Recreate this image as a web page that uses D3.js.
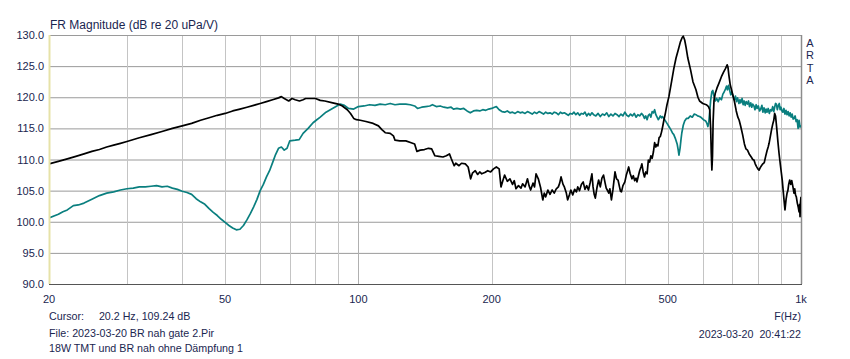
<!DOCTYPE html>
<html><head><meta charset="utf-8">
<script src="https://cdn.jsdelivr.net/npm/d3@7"></script>
<style>
html,body{margin:0;padding:0;background:#fff;}
svg{display:block;font-family:"Liberation Sans",Arial,sans-serif;}
</style></head>
<body>
<svg id="chart" width="850" height="359"></svg>
<script>
const title = "FR Magnitude (dB re 20 uPa/V)";
const yTicks = [90,95,100,105,110,115,120,125,130];
const xGrid = [30,40,50,60,70,80,90,100,200,300,400,500,600,700,800,900];
const xTickLabels = [[20,"20"],[50,"50"],[100,"100"],[200,"200"],[500,"500"],[1000,"1k"]];
const infoLeft = ["Cursor:\u00a0\u00a0\u00a0\u00a0 20.2 Hz, 109.24 dB","File: 2023-03-20 BR nah gate 2.Pir","18W TMT und BR nah ohne Dämpfung 1"];
const infoRight = ["F(Hz)","2023-03-20\u00a0\u00a020:41:22"];
const brand = ["A","R","T","A"];

const blackCurve = [[20,109.3],[21,109.7],[22,110.1],[23,110.5],[24,110.9],[25,111.3],[26,111.6],[27,112.0],[28,112.3],[29,112.6],[30,112.9],[32,113.5],[34,114.0],[36,114.5],[38,115.0],[40,115.4],[42,115.8],[44,116.3],[46,116.7],[48,117.1],[50,117.4],[52,117.8],[54,118.1],[56,118.4],[58,118.7],[60,119.0],[62,119.3],[64,119.6],[66,119.9],[67,120.1],[68,119.8],[69.6,119.4],[70.8,119.8],[72,119.6],[73.6,119.4],[75,119.6],[76,119.8],[78,119.8],[80,119.8],[82,119.5],[84,119.4],[87.5,119.1],[90,118.9],[92,118.6],[94.4,118.0],[96,117.4],[97.6,116.6],[99,116.4],[101,116.3],[104,116.1],[108,115.8],[111,115.4],[113,114.8],[115,114.3],[118,114.2],[120,113.8],[121,113.1],[124,113.0],[128,113.0],[131.6,112.7],[134,112.5],[135.6,111.3],[138,111.5],[141,111.6],[144,111.8],[146.4,111.7],[148.9,110.6],[152,110.5],[155.3,110.4],[158,110.6],[160.6,110.9],[162,110.2],[164.6,109.0],[166,109.4],[168.8,109.0],[171,109.4],[174.4,109.3],[177,108.8],[179.3,106.9],[181,107.8],[183.7,108.2],[186,107.6],[188,108.0],[190,107.7],[193,107.9],[196,108.2],[199,108.0],[202,108.5],[205,108.8],[208,108.5],[210,105.6],[212,106.6],[214,107.5],[217,106.5],[220,106.9],[223,106.0],[225,106.6],[227,105.3],[230,105.8],[233,105.4],[235,106.1],[238,105.6],[241,106.9],[243,105.8],[245,105.1],[248,106.2],[250,105.6],[252,107.7],[255,106.9],[258,105.5],[261,103.5],[263,104.6],[265,104.0],[268,105.1],[271,104.4],[274,105.1],[277,104.6],[280,105.3],[283,105.6],[285,106.2],[287,107.2],[290,106.0],[292,105.6],[295,104.6],[297,103.5],[300,104.4],[302,105.1],[305,104.3],[308,105.2],[311,104.8],[313,105.6],[316,105.0],[319,106.0],[322,106.4],[325,105.2],[328,105.8],[331,105.1],[334,106.3],[337,107.7],[339,105.6],[341,104.4],[343,103.8],[346,105.5],[349,106.7],[352,105.6],[355,107.0],[358,107.5],[361,106.2],[363,105.4],[365,105.1],[368,104.6],[370,105.3],[373,103.5],[376,105.2],[378,106.6],[380,108.0],[383,106.9],[386,106.7],[389,105.6],[391,104.9],[393,104.8],[396,105.8],[400,106.4],[403,107.5],[405,108.0],[408,108.8],[411,107.8],[415,106.9],[418,107.4],[421,106.6],[424,107.0],[426,106.4],[429,107.3],[432,108.2],[435,108.8],[437,109.3],[440,108.0],[443,107.2],[446,108.0],[449,107.7],[452,109.9],[455,109.6],[458,110.6],[461,110.2],[464,111.2],[467,112.7],[470,112.0],[472,112.4],[475,112.2],[478,113.5],[481,113.7],[484,114.4],[487,115.3],[490,116.3],[494,117.5],[498,118.8],[503,120.1],[510,122.5],[516,124.6],[522,126.3],[528,127.6],[534,128.9],[539,129.6],[542,129.8],[546,129.2],[550,128.0],[555,126.3],[563,124.4],[570,122.5],[579,121.2],[585,120.0],[590,119.4],[600,119.0],[611,118.8],[618,118.5],[622,118.0],[625,115.0],[627,111.0],[629,108.3],[631,110.5],[633,116.0],[636,119.5],[640,120.6],[646,121.5],[652,122.2],[661,123.3],[668,124.0],[675,124.6],[681,125.2],[684,124.8],[687,123.6],[692,122.0],[700,120.6],[707,119.4],[714,117.8],[720,116.8],[725,116.3],[731,115.3],[738,114.0],[745,112.5],[751,111.7],[757,111.5],[765,110.8],[772,110.4],[778,110.0],[783,109.9],[788,109.3],[793,108.9],[799,108.5],[804,108.3],[809,108.7],[814,109.0],[820,109.3],[826,109.5],[832,110.5],[838,111.4],[843,112.0],[847,112.6],[853,113.8],[858,114.8],[864,115.8],[868,116.3],[872,117.4],[876,117.0],[882,114.8],[887,112.8],[892,111.0],[898,109.2],[903,107.8],[907,106.7],[912,104.8],[916,103.3],[920,101.9],[925,103.5],[930,104.6],[934,105.0],[938,106.0],[943,106.7],[948,106.0],[953,106.6],[959,105.6],[964,104.6],[968,105.3],[972,104.3],[976,104.0],[981,103.0],[986,102.3],[990,101.6],[993,102.8],[995,100.8],[997,103.0],[1000,104.0]];

const tealCurve = [[20,100.6],[21,101.2],[21.5,101.6],[22,101.9],[22.7,102.6],[23.3,102.7],[24,103.0],[25,103.6],[26,104.2],[27,104.6],[28,104.8],[29,105.1],[30,105.3],[31,105.4],[32,105.6],[33,105.6],[34,105.7],[35,105.8],[36,105.6],[37,105.7],[38,105.4],[39,105.2],[40,104.9],[41,104.7],[42,104.4],[43,103.7],[44,103.2],[45,102.8],[46,102.1],[47,101.5],[48,101.0],[49,100.4],[50,99.9],[51,99.4],[52,99.0],[53,98.7],[54,98.8],[55,99.4],[56,100.3],[57,101.3],[58,102.4],[59,103.6],[60,105.0],[61,106.0],[62,107.2],[63,108.2],[64,109.5],[65,110.8],[66,111.8],[67,112.0],[68,111.5],[69,111.8],[70,113.0],[72,113.1],[73.5,113.2],[75,114.2],[77,115.0],[79,115.9],[80.3,116.3],[82,116.8],[84.5,117.6],[87,118.1],[89,118.5],[91,118.9],[93,118.7],[95,118.2],[97.6,118.1],[100,118.5],[103,118.6],[106,118.8],[109,118.7],[112,118.9],[115,118.8],[118,119.0],[121,118.8],[124,118.9],[128,118.9],[131,118.8],[134,118.6],[136,118.2],[139,118.4],[142,118.5],[145,118.6],[147,118.8],[150,118.5],[153,118.6],[156,118.4],[159,118.3],[162,118.4],[164,118.1],[167,118.2],[170,118.1],[173,118.2],[176,117.8],[179,117.5],[182,117.8],[185,117.9],[188,117.8],[191,118.0],[194,117.9],[197,118.1],[200,118.2],[203,118.4],[205,118.5],[208,118.0],[211,117.7],[214,117.6],[217,117.8],[220,117.5],[223,117.6],[226,117.4],[229,117.7],[232,117.5],[235,117.6],[238,117.4],[241,117.7],[244,117.5],[247,117.3],[250,117.6],[253,117.4],[256,117.7],[259,117.5],[262,117.3],[265,117.6],[268,117.4],[271,117.5],[274,117.3],[277,117.6],[280,117.5],[283,117.2],[286,117.6],[289,117.4],[292,117.5],[295,117.3],[298,117.1],[301,117.4],[304,117.3],[307,117.6],[310,117.2],[313,117.5],[316,117.1],[319,117.4],[322,117.3],[325,117.6],[328,117.0],[331,117.4],[334,117.1],[337,117.5],[340,117.2],[344,117.0],[348,117.4],[352,116.9],[356,117.3],[360,117.1],[364,117.5],[368,116.9],[372,117.3],[376,117.0],[380,117.4],[384,117.2],[388,116.9],[392,117.3],[396,117.0],[400,117.6],[404,117.1],[408,116.9],[412,117.3],[416,117.0],[420,117.4],[424,116.8],[428,117.2],[432,117.0],[436,117.4],[440,117.1],[443,116.6],[446,117.0],[449,116.4],[452,117.1],[455,117.3],[458,116.8],[461,117.7],[464,117.5],[467,118.0],[470,117.2],[473,116.8],[476,116.4],[478,116.6],[481,117.0],[484,116.7],[486,116.9],[490,116.6],[494,116.2],[498,115.8],[503,115.3],[508,114.8],[512,114.3],[516,114.0],[520,113.4],[525,112.5],[528,111.5],[530,110.7],[533,111.8],[536,113.4],[538,114.3],[542,115.5],[546,116.2],[551,116.6],[556,116.6],[562,117.0],[568,116.8],[574,117.3],[579,117.2],[584,117.0],[590,116.9],[596,116.7],[602,116.4],[609,116.2],[613,115.8],[616,115.3],[619,116.0],[622,117.7],[625,119.5],[629,120.9],[632,121.1],[635,120.4],[640,119.4],[645,119.8],[650,119.3],[655,119.9],[661,119.6],[666,120.5],[670,120.8],[675,121.3],[679,121.8],[682,121.2],[686,121.9],[690,121.1],[694,120.4],[698,120.8],[703,120.0],[707,119.6],[711,120.2],[715,119.3],[719,119.9],[724,119.0],[728,119.6],[731,119.1],[736,119.8],[740,118.8],[744,119.4],[748,118.7],[752,119.3],[757,118.9],[761,119.4],[765,118.5],[770,119.1],[774,118.4],[778,118.9],[783,118.6],[787,118.0],[792,118.8],[796,118.2],[801,118.6],[806,117.8],[811,118.1],[816,118.7],[820,117.6],[825,118.3],[830,117.5],[834,118.1],[838,117.6],[843,118.2],[848,117.4],[853,118.0],[858,117.8],[863,118.5],[868,117.7],[872,118.4],[876,119.0],[880,118.9],[884,118.0],[888,118.6],[893,119.0],[897,118.0],[901,118.4],[906,117.8],[910,117.6],[915,118.2],[920,117.3],[925,117.9],[930,117.2],[935,117.7],[940,117.0],[945,117.5],[950,116.8],[955,117.3],[960,116.5],[965,116.6],[970,117.0],[975,116.1],[980,116.4],[985,115.0],[990,116.3],[995,115.2],[1000,115.5]];

const svg = d3.select("#chart");
const L = 49, R = 801, T = 35, B = 284;
const x = d3.scaleLog().domain([20,1000]).range([L,R]);
const y = d3.scaleLinear().domain([90,130]).range([B,T]);
const textColor = "#1a2650";

// grid
const g = svg.append("g");
g.selectAll("line.hg").data(yTicks.filter(v=>v>90 && v<130)).enter().append("line")
  .attr("x1",L).attr("x2",R).attr("y1",d=>y(d)+0.5).attr("y2",d=>y(d)+0.5)
  .attr("stroke","#9a9a9a").attr("stroke-width",1);
g.selectAll("line.vg").data(xGrid).enter().append("line")
  .attr("y1",T).attr("y2",B).attr("x1",d=>Math.round(x(d))+0.5).attr("x2",d=>Math.round(x(d))+0.5)
  .attr("stroke",d=>[100].includes(d)?"#b0b0b0":"#c4c4c4").attr("stroke-width",1);

// frame
svg.append("line").attr("x1",L).attr("x2",R+1).attr("y1",T+0.5).attr("y2",T+0.5).attr("stroke","#9a9a9a");
svg.append("line").attr("x1",R+0.5).attr("x2",R+0.5).attr("y1",T).attr("y2",B).attr("stroke","#8c8c8c").attr("stroke-width",1.5);
svg.append("line").attr("x1",L).attr("x2",R+1).attr("y1",B+0.5).attr("y2",B+0.5).attr("stroke","#555").attr("stroke-width",1.2);

// clip
svg.append("clipPath").attr("id","clip").append("rect").attr("x",L).attr("y",T).attr("width",R-L).attr("height",B-T);

const line = d3.line().x(d=>x(d[0])).y(d=>y(d[1]));
const curves = svg.append("g").attr("clip-path","url(#clip)");
curves.append("path").datum(tealCurve).attr("d",line).attr("fill","none").attr("stroke","#0a7f7f").attr("stroke-width",1.7).attr("stroke-linejoin","round");
curves.append("path").datum(blackCurve).attr("d",line).attr("fill","none").attr("stroke","#000").attr("stroke-width",1.7).attr("stroke-linejoin","round");

// left yellowish edge
svg.append("line").attr("x1",L+0.5).attr("x2",L+0.5).attr("y1",T).attr("y2",B).attr("stroke","#e6e2a8").attr("stroke-width",2);

// y labels
svg.selectAll("text.yl").data(yTicks).enter().append("text")
  .attr("x",44).attr("y",d=>y(d)+4).attr("text-anchor","end")
  .attr("font-size",11).attr("fill",textColor).text(d=>d.toFixed(1));

// x labels
svg.selectAll("text.xl").data(xTickLabels).enter().append("text")
  .attr("x",d=>x(d[0])).attr("y",303).attr("text-anchor","middle")
  .attr("font-size",11).attr("fill",textColor).text(d=>d[1]);

// title
svg.append("text").attr("x",50).attr("y",29).attr("font-size",12).attr("fill",textColor).text(title);

// ARTA
svg.selectAll("text.br").data(brand).enter().append("text")
  .attr("x",810).attr("y",(d,i)=>47+i*12.3).attr("text-anchor","middle")
  .attr("font-size",11).attr("fill",textColor).text(d=>d);

// info
svg.selectAll("text.il").data(infoLeft).enter().append("text")
  .attr("x",49).attr("y",(d,i)=>[320,337,352][i]).attr("font-size",10.7).attr("fill",textColor)
  .text(d=>d);
svg.selectAll("text.ir").data(infoRight).enter().append("text")
  .attr("x",801).attr("y",(d,i)=>[320,338][i]).attr("text-anchor","end").attr("font-size",10.7).attr("fill",textColor)
  .text(d=>d);
</script>
</body></html>
